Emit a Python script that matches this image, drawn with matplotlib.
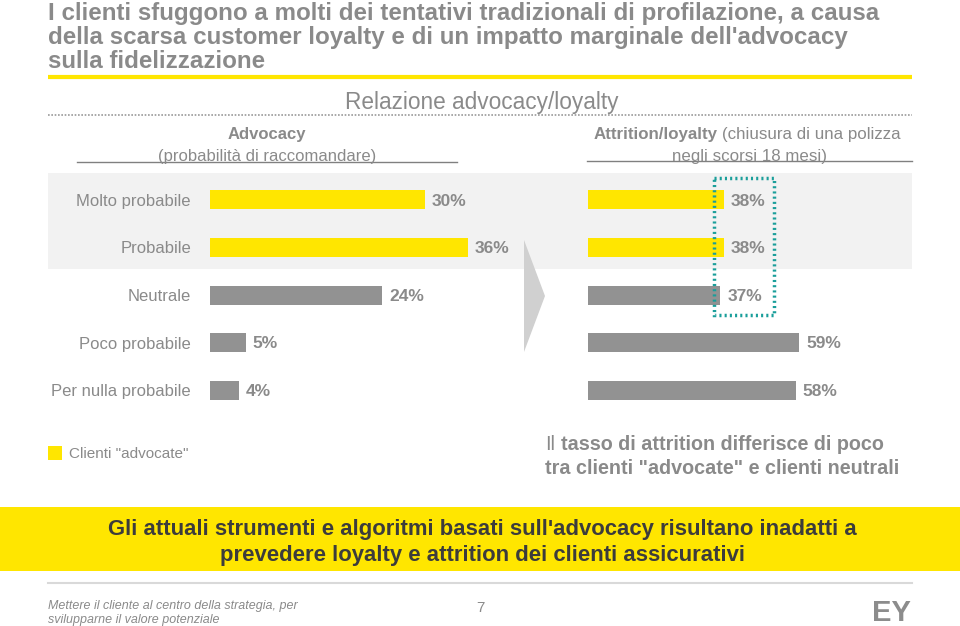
import matplotlib
matplotlib.use('Agg')
import matplotlib.pyplot as plt
from matplotlib.patches import Rectangle, Polygon

plt.rcParams['font.family'] = ['Liberation Sans', 'DejaVu Sans']

categories = ['Molto probabile', 'Probabile', 'Neutrale', 'Poco probabile', 'Per nulla probabile']
advocacy = [30, 36, 24, 5, 4]
attrition = [38, 38, 37, 59, 58]
is_advocate = [True, True, False, False, False]

YELLOW = '#ffe600'
BAR_GRAY = '#929292'
TXT = '#8a8a8a'
TEAL = '#1a9e9a'

W, H = 960, 626
fig = plt.figure(figsize=(W / 100, H / 100), dpi=100)


def px_axes(x0, y0, x1, y1, z):
    # axes placed by pixel box (top-left origin)
    ax = fig.add_axes([x0 / W, 1 - y1 / H, (x1 - x0) / W, (y1 - y0) / H], zorder=z)
    ax.set_axis_off()
    ax.patch.set_alpha(0)
    return ax


bg = px_axes(0, 0, W, H, 0)
bg.set_xlim(0, W)
bg.set_ylim(H, 0)
top = px_axes(0, 0, W, H, 5)
top.set_xlim(0, W)
top.set_ylim(H, 0)

# title
title_lines = ["I clienti sfuggono a molti dei tentativi tradizionali di profilazione, a causa",
               "della scarsa customer loyalty e di un impatto marginale dell'advocacy",
               "sulla fidelizzazione"]
for y, line in zip([20, 44, 68], title_lines):
    bg.text(48, y, line, fontsize=17.4, fontweight='bold', color=TXT, va='baseline',
            ha='left')
bg.plot([48, 912], [77, 77], color=YELLOW, lw=3, solid_capstyle='butt')

bg.text(482, 100, 'Relazione advocacy/loyalty', fontsize=16.3, color=TXT, ha='center',
        va='center_baseline')
bg.plot([48, 912], [115, 115], color='#999999', lw=1.2, ls=(0, (1, 1)))

bg.text(267, 133, 'Advocacy', fontsize=12, fontweight='bold', color=TXT, ha='center',
        va='center_baseline')
bg.text(267, 155, '(probabilità di raccomandare)', fontsize=12, color=TXT, ha='center',
        va='center_baseline')
bg.plot([77, 457], [162, 162], color='#808080', lw=1)

bg.text(594, 133, 'Attrition/loyalty', fontsize=12.2, fontweight='bold', color=TXT, ha='left',
        va='center_baseline')
bg.text(722, 133, '(chiusura di una polizza', fontsize=12.2, color=TXT, ha='left',
        va='center_baseline')
bg.text(750, 155, 'negli scorsi 18 mesi)', fontsize=12.2, color=TXT, ha='center',
        va='center_baseline')
bg.plot([587, 912], [161, 161], color='#808080', lw=1)

# shaded band behind the advocate rows
bg.add_patch(Rectangle((48, 173), 864, 96, color='#f2f2f2', lw=0))

# chevron between the two panels
bg.add_patch(Polygon([(524, 240), (545, 296), (524, 352)], closed=True,
                     facecolor='#d0d0d0', edgecolor='none'))

# bar panels: rows every 47.5 px starting at y=200
row_h = 47.5
y0 = 200 - row_h / 2
y1 = y0 + row_h * len(categories)
left_scale = 215 / 30.0      # px per percent
right_scale = 136 / 38.0

axl = px_axes(210, y0, 520, y1, 2)
axl.set_xlim(0, 310 / left_scale)
axr = px_axes(588, y0, 900, y1, 2)
axr.set_xlim(0, 312 / right_scale)

colors = [YELLOW if a else BAR_GRAY for a in is_advocate]
ypos = list(range(len(categories)))
for ax, vals, scale in [(axl, advocacy, left_scale), (axr, attrition, right_scale)]:
    ax.set_ylim(len(categories) - 0.5, -0.5)
    ax.barh(ypos, vals, height=0.4, color=colors, lw=0)
    for y, v in zip(ypos, vals):
        ax.text(v + 7 / scale, y, f'{v}%', fontsize=12.5, fontweight='bold', color=TXT,
                ha='left', va='center_baseline')

for y, c in zip(ypos, categories):
    axl.text(-19 / left_scale, y, c, fontsize=12, color=TXT, ha='right', va='center_baseline')

# teal dotted highlight box
top.add_patch(Rectangle((714, 178), 60, 137, fill=False, edgecolor=TEAL, lw=2.5,
                        ls=(0, (0.6, 0.9))))

# legend
bg.add_patch(Rectangle((48, 446), 14, 14, color=YELLOW, lw=0))
bg.text(69, 453, 'Clienti "advocate"', fontsize=11, color=TXT, ha='left', va='center_baseline')

bg.text(545, 443, 'Il', fontsize=14.2, color=TXT, ha='left', va='center_baseline')
bg.text(561, 443, 'tasso di attrition differisce di poco', fontsize=14.2, fontweight='bold',
        color=TXT, ha='left', va='center_baseline')
bg.text(545, 467, 'tra clienti "advocate" e clienti neutrali', fontsize=14.2, fontweight='bold',
        color=TXT, ha='left', va='center_baseline')

# conclusion band
bg.add_patch(Rectangle((0, 507), W, 64, color=YELLOW, lw=0))
bg.text(482, 527, "Gli attuali strumenti e algoritmi basati sull'advocacy risultano inadatti a",
        fontsize=15.9, fontweight='bold', color='#3c3c3c', ha='center', va='center_baseline')
bg.text(482, 553, 'prevedere loyalty e attrition dei clienti assicurativi',
        fontsize=15.9, fontweight='bold', color='#3c3c3c', ha='center', va='center_baseline')

bg.plot([48, 912], [583, 583], color='#d9d9d9', lw=1.5)

# footer
bg.text(48, 604, 'Mettere il cliente al centro della strategia, per', fontsize=9,
        style='italic', color=TXT, ha='left', va='center_baseline')
bg.text(48, 619, 'svilupparne il valore potenziale', fontsize=9,
        style='italic', color=TXT, ha='left', va='center_baseline')
bg.text(480, 607, '7', fontsize=11, color=TXT, ha='center', va='center_baseline')
bg.text(911, 610, 'EY', fontsize=21, fontweight='bold', color='#8c8c8c', ha='right',
        va='center_baseline')

fig.savefig('out.png', dpi=100)
